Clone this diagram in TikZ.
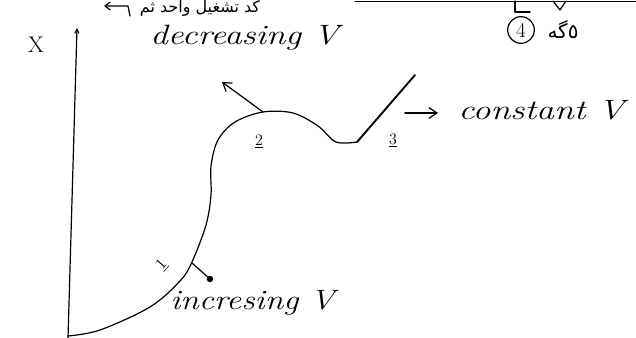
\documentclass[tikz,border=0pt]{standalone}
\usepackage{fontspec}
\usepackage{graphicx}
\usetikzlibrary{arrows.meta}
\newfontfamily\arabicfont[Script=Arabic]{DejaVu Sans}
\TeXXeTstate=1
\begin{document}
\begin{tikzpicture}[x=0.75pt,y=-0.75pt,
  ink/.style={line width=0.9pt,line cap=round,line join=round},
  hand/.style={font=\fontsize{21}{23}\selectfont\itshape,inner sep=0pt},
  tag/.style={font=\fontsize{13}{14}\selectfont,inner sep=0pt},
  arr/.style={ink,-{Straight Barb[length=6pt,width=8pt]}}]
\useasboundingbox (0,0) rectangle (636,338);
% axis
\coordinate (axb) at (68,338);
\coordinate (axt) at (77,28);
\draw[ink,-{Straight Barb[length=3pt,width=3pt]}] (axb) -- (axt);
\node[font=\fontsize{17}{18}\selectfont,inner sep=0pt] (X) at (36,45) {X};
% curve
\draw[ink] plot[smooth,tension=0.55] coordinates {(68,336) (100,330) (150,307) (180,281) (192,262) (206,225) (211,195) (211,166) (218,140) (235,122) (263,112) (293,113) (318,126) (336,142) (357,142)};
\draw[ink,line width=1.4pt] (357,142) -- (415,75);
% arrows from curve
\coordinate (top) at (263,112);
\coordinate (topend) at (222,82);
\draw[arr] (top) -- (topend);
\coordinate (low) at (192,263);
\coordinate (lowend) at (210,279);
\draw[ink] (low) -- (lowend);
\fill (lowend) circle (3.2);
\coordinate (cs) at (405,113);
\coordinate (ce) at (438,113);
\draw[arr] (cs) -- (ce);
% labels
\node[hand,anchor=west] (dec) at (150,38) {\scalebox{1.25}[1]{decreasing V}};
\node[hand,anchor=west] (inc) at (170,303) {\scalebox{1.2}[1]{incresing V}};
\node[hand,anchor=west] (con) at (458,110) {\scalebox{1.28}[1]{constant V}};
\node[tag] (l2) at (259,142) {$\underline{2}$};
\node[tag] (l3) at (393,141) {$\underline{3}$};
\node[tag,rotate=50] (l1) at (162,265) {$\underline{1}$};
% top annotations
\node[font=\fontsize{12}{13}\selectfont\arabicfont,inner sep=0pt] (ar) at (200,8) {\beginR كد تشغيل واحد ثم\endR};
\coordinate (h1) at (104,6);
\coordinate (h2) at (128,6);
\coordinate (h3) at (130,16);
\draw[ink,{Straight Barb[length=4pt,width=6pt]}-] (h1) -- (h2) -- (h3);
\draw[ink,line width=0.6pt] (355,1) -- (636,1);
\draw[ink] (515,1) -- (515,12) -- (530,12);
\draw[ink] (553,1) -- (560,10) -- (566,1);
\node[circle,draw,ink,inner sep=1.2pt,minimum size=20pt,font=\fontsize{16}{17}\selectfont] (c4) at (521,30) {4};
\node[font=\fontsize{15}{16}\selectfont\arabicfont,inner sep=0pt] (ar2) at (563,30) {\beginR ٥گه\endR};
\end{tikzpicture}
\end{document}
